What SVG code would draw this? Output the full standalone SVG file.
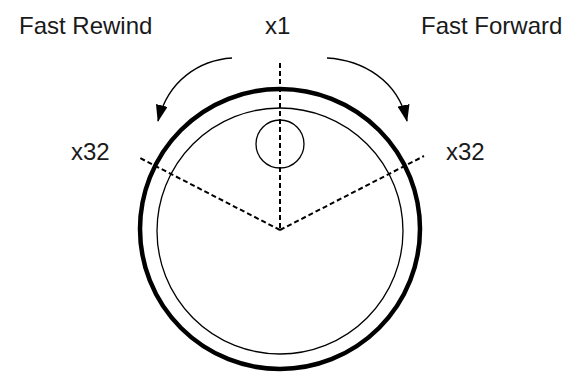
<svg xmlns="http://www.w3.org/2000/svg" width="576" height="372" viewBox="0 0 576 372">
<style>
text{font-family:"Liberation Sans",Arial,sans-serif;font-size:24px;fill:#1a1a1a}
.dash{fill:none;stroke:#000;stroke-width:2;stroke-dasharray:5,3}
.arc{fill:none;stroke:#000;stroke-width:1.3}
</style>
<defs>
<marker id="ah" viewBox="0 0 17 12" refX="16" refY="6" markerWidth="17" markerHeight="12" markerUnits="userSpaceOnUse" orient="auto">
<path d="M0,0 L17,6 L0,12 Z" fill="#000"/>
</marker>
</defs>
<rect width="576" height="372" fill="#fff"/>
<g id="dial">
<circle cx="280" cy="229" r="140" fill="none" stroke="#000" stroke-width="4.5"/>
<circle cx="280" cy="231" r="123" fill="none" stroke="#000" stroke-width="1.3"/>
</g>
<g id="knob">
<circle cx="280" cy="144" r="24" fill="none" stroke="#000" stroke-width="1.3"/>
</g>
<g id="connectors">
<path class="dash" d="M280,63 V230"/>
<path class="dash" d="M280,230 L138,157"/>
<path class="dash" d="M280,230 L424,156"/>
<path class="arc" d="M232,58 C200,60 168,80 158,121" marker-end="url(#ah)"/>
<path class="arc" d="M327,58 C362,60 398,80 407,121" marker-end="url(#ah)"/>
</g>
<g id="labels">
<text x="19" y="34">Fast Rewind</text>
<text x="265" y="34">x1</text>
<text x="421" y="34">Fast Forward</text>
<text x="71" y="160">x32</text>
<text x="446" y="160">x32</text>
</g>
</svg>
